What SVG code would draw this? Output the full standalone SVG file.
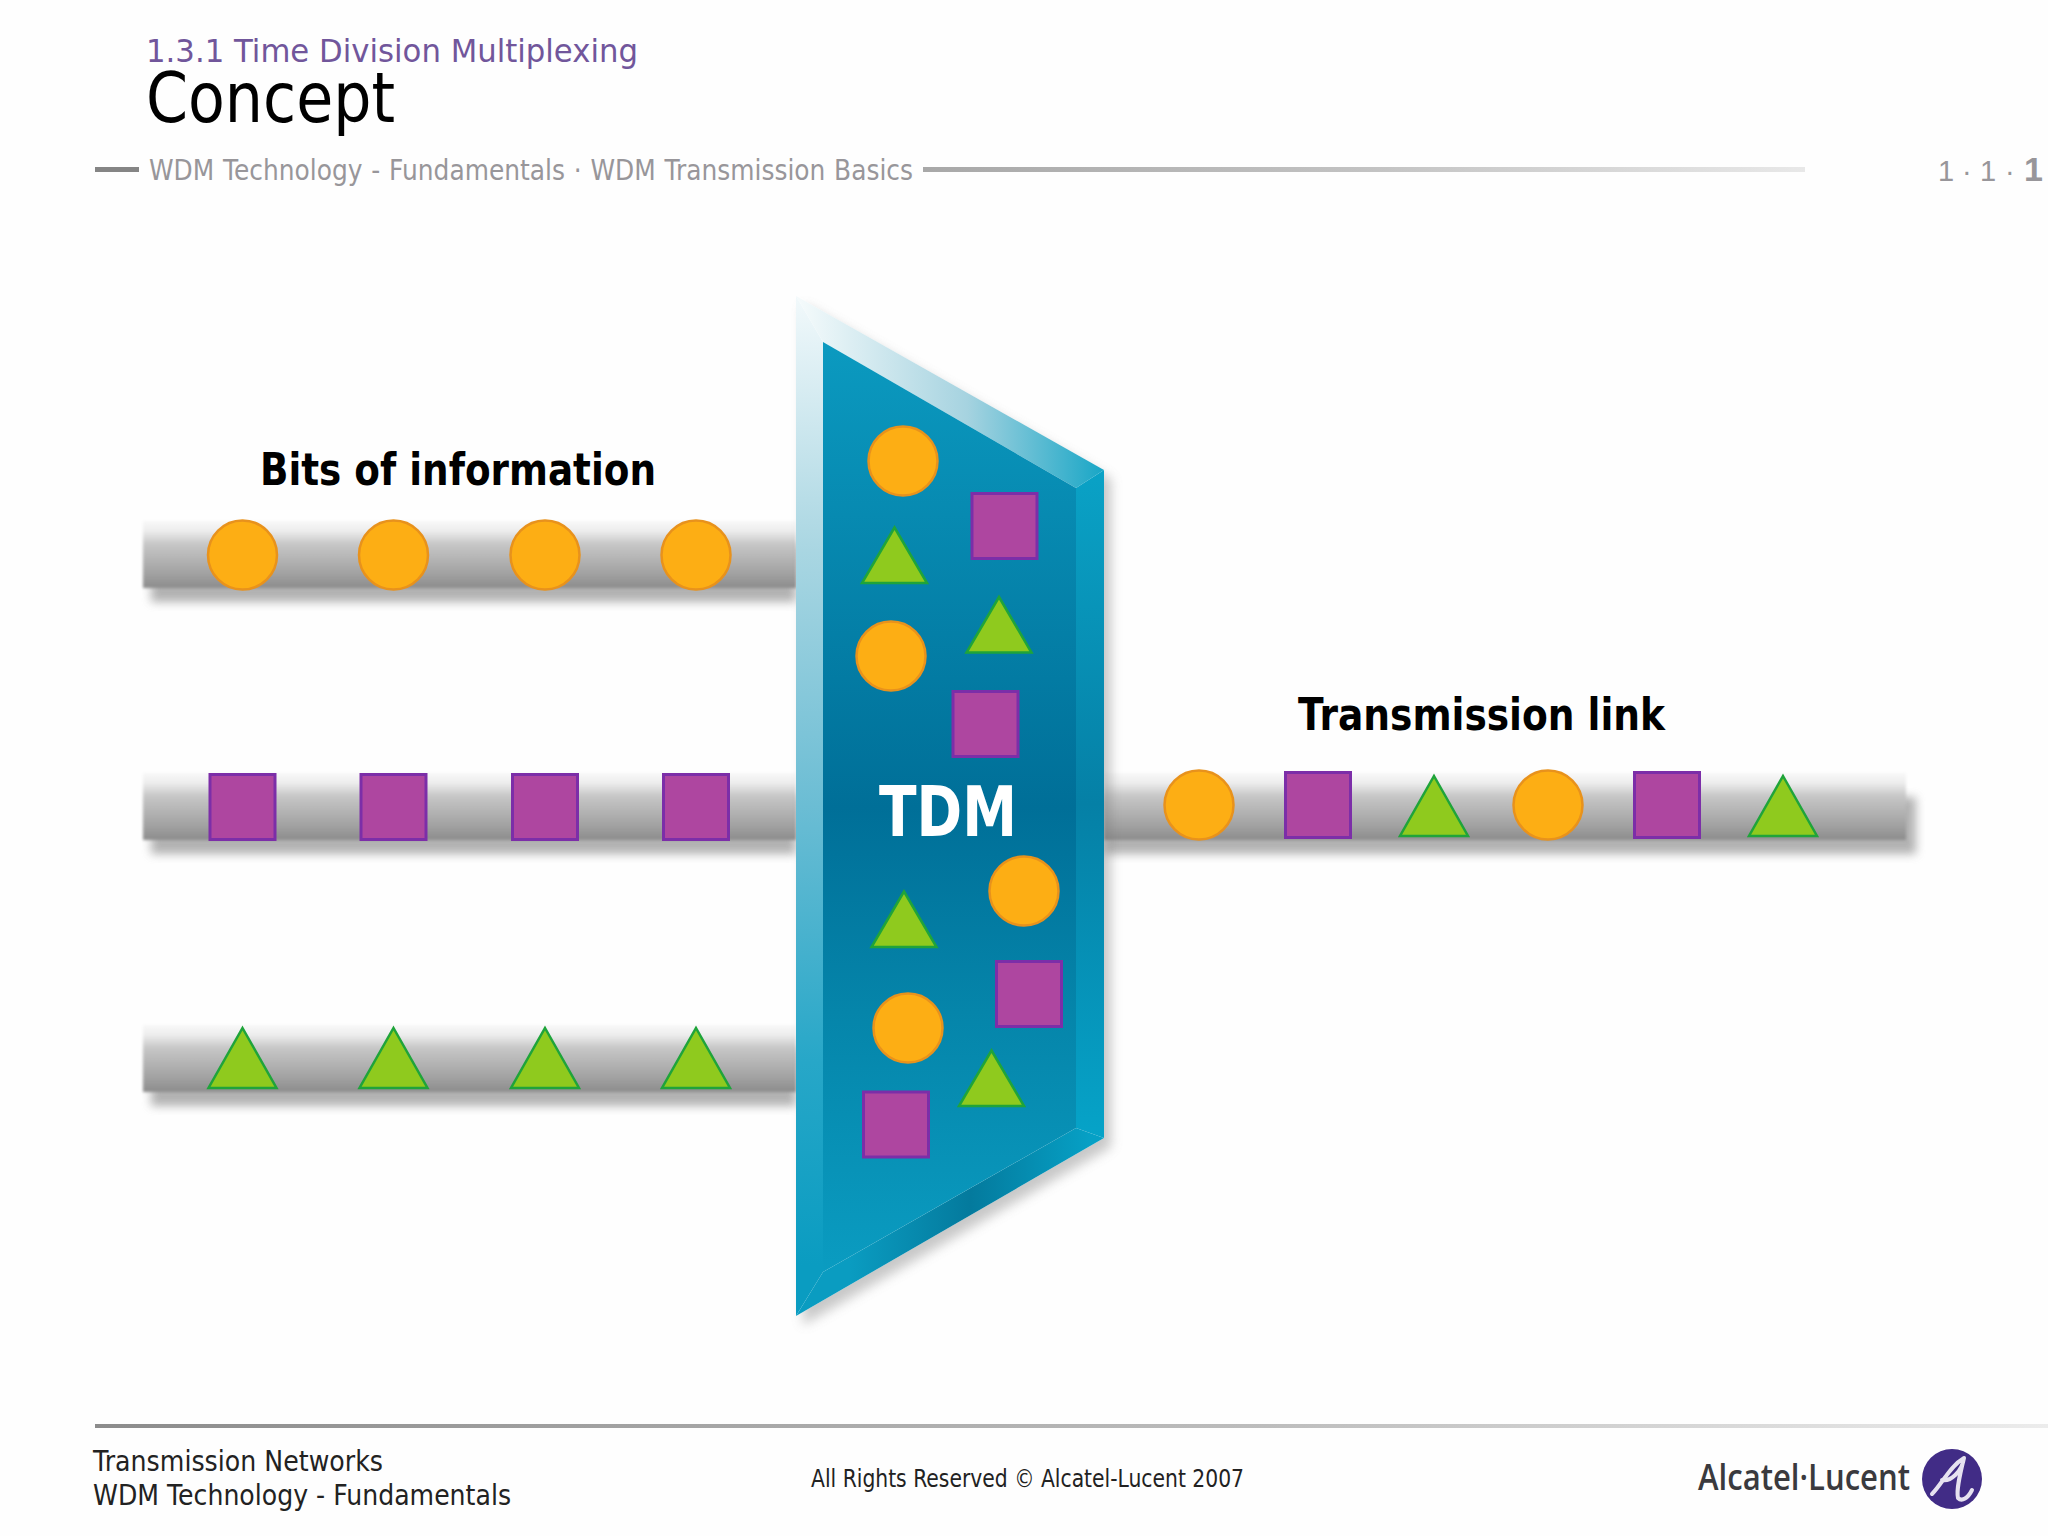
<svg xmlns="http://www.w3.org/2000/svg" xmlns:xlink="http://www.w3.org/1999/xlink" width="2048" height="1536" viewBox="0 0 2048 1536">
<style>
text{font-family:"DejaVu Sans","Liberation Sans",sans-serif}
.c{fill:#fdae14;stroke:#e8921c;stroke-width:2.500}
.s{fill:#ae46a0;stroke:#7c2ea8;stroke-width:3}
.t{fill:#8fca1e;stroke:#1fa43a;stroke-width:2.500;stroke-linejoin:miter}
.lbl{font-weight:bold;font-size:44px;fill:#000}
.gr{fill:#98969a}
.pg{font-family:"Liberation Sans",Arial,sans-serif;fill:#98969a}
.ft{font-size:29px;fill:#222}
</style>
<defs>
<filter id="blur" x="-5%" y="-40%" width="110%" height="180%"><feGaussianBlur stdDeviation="5"/></filter>
<filter id="blur2" x="-10%" y="-10%" width="120%" height="120%"><feGaussianBlur stdDeviation="6"/></filter>
<filter id="soft" x="-2%" y="-20%" width="104%" height="140%"><feGaussianBlur stdDeviation="1.6"/></filter>
<linearGradient id="bar1" gradientUnits="objectBoundingBox" x1="0" y1="0" x2="0" y2="1"><stop offset="0" stop-color="#f8f8f8"/><stop offset=".14" stop-color="#eeeeee"/><stop offset=".35" stop-color="#c6c6c6"/><stop offset=".8" stop-color="#a0a0a0"/><stop offset="1" stop-color="#8b8b8b"/></linearGradient>
<linearGradient id="fadeL" x1="0" x2="1" y1="0" y2="0"><stop offset="0" stop-color="#a8a8a8"/><stop offset=".5" stop-color="#c2c2c2"/><stop offset="1" stop-color="#e8e8e8"/></linearGradient>
<linearGradient id="fadeF" x1="0" x2="1" y1="0" y2="0"><stop offset="0" stop-color="#8c8c8c"/><stop offset=".6" stop-color="#bdbdbd"/><stop offset="1" stop-color="#ececec"/></linearGradient>
<linearGradient id="inner" gradientUnits="userSpaceOnUse" x1="0" y1="342" x2="0" y2="1272"><stop offset="0" stop-color="#0b9ac0"/><stop offset=".5" stop-color="#006f98"/><stop offset=".72" stop-color="#0585aa"/><stop offset="1" stop-color="#0a9cc1"/></linearGradient>
<linearGradient id="left" gradientUnits="userSpaceOnUse" x1="0" y1="296" x2="0" y2="1316"><stop offset="0" stop-color="#f2f9fb"/><stop offset=".25" stop-color="#a9d6e2"/><stop offset=".5" stop-color="#6bbdd4"/><stop offset=".75" stop-color="#27a7c8"/><stop offset=".95" stop-color="#0a9cc1"/></linearGradient>
<linearGradient id="top" gradientUnits="userSpaceOnUse" x1="800" y1="0" x2="1104" y2="0"><stop offset="0" stop-color="#f4fafb"/><stop offset=".55" stop-color="#a6d3e0"/><stop offset="1" stop-color="#18a6c6"/></linearGradient>
<linearGradient id="right" gradientUnits="userSpaceOnUse" x1="0" y1="470" x2="0" y2="1138"><stop offset="0" stop-color="#0aa2c6"/><stop offset=".5" stop-color="#0580a6"/><stop offset="1" stop-color="#06a3c8"/></linearGradient>
<linearGradient id="bottom" gradientUnits="userSpaceOnUse" x1="850" y1="0" x2="1090" y2="0"><stop offset="0" stop-color="#0a9cc1"/><stop offset=".5" stop-color="#047a9d"/><stop offset="1" stop-color="#06a0c5"/></linearGradient>
<g id="bar-l"><rect x="151" y="-25" width="645" height="57" fill="#808080" opacity=".6" filter="url(#blur)" transform="translate(0,16)"/><rect x="143" y="-33" width="653" height="67" fill="url(#bar1)" filter="url(#soft)"/></g>
<g id="bar-r"><rect x="1104" y="-25" width="812" height="57" fill="#808080" opacity=".6" filter="url(#blur)" transform="translate(0,16)"/><rect x="1104" y="-33" width="802" height="67" fill="url(#bar1)" filter="url(#soft)"/></g>
<circle id="ci" class="c" r="34.5"/>
<rect id="sq" class="s" x="-32.5" y="-32.5" width="65" height="65"/>
<polygon id="tr" class="t" points="0,-30 34,30 -34,30"/>
<polygon id="trs" class="t" points="0,-28.500 32.500,27 -32.500,27"/>
</defs>
<rect width="2048" height="1536" fill="#fefefe"/>

<g id="header">
<text x="146" y="62" font-size="32" fill="#71569b" textLength="492" lengthAdjust="spacingAndGlyphs">1.3.1 Time Division Multiplexing</text>
<text x="146" y="122" font-size="70" fill="#000" textLength="249" lengthAdjust="spacingAndGlyphs">Concept</text>
<rect x="95" y="167" width="44" height="5" fill="#858585"/>
<text x="149" y="180" font-size="29" class="gr" textLength="764" lengthAdjust="spacingAndGlyphs" word-spacing="1">WDM Technology - Fundamentals · WDM Transmission Basics</text>
<rect x="923" y="167" width="882" height="5" fill="url(#fadeL)"/>
<text x="1938" y="181" font-size="29" class="pg"><tspan>1</tspan><tspan x="1962">·</tspan><tspan x="1980">1</tspan><tspan x="2005">·</tspan></text>
<text x="2024" y="181" font-size="34" font-weight="bold" class="pg">1</text>
</g>

<g id="connectors">
<use id="bar-1" xlink:href="#bar-l" y="554"/>
<use id="bar-2" xlink:href="#bar-l" y="806"/>
<use id="bar-3" xlink:href="#bar-l" y="1058"/>
<use id="bar-out" xlink:href="#bar-r" y="806"/>
</g>

<g id="tdm">
<polygon points="796,296 1104,470 1104,1138 796,1316" fill="#777" opacity=".4" filter="url(#blur2)" transform="translate(7,9)"/>
<polygon points="796,296 1104,470 1104,1138 796,1316" fill="#fefefe"/>
<polygon points="796,296 823,342 823,1272 796,1316" fill="url(#left)"/>
<polygon points="796,296 1104,470 1076,488 823,342" fill="url(#top)"/>
<polygon points="1104,470 1104,1138 1076,1128 1076,488" fill="url(#right)"/>
<polygon points="796,1316 1104,1138 1076,1128 823,1272" fill="url(#bottom)"/>
<polygon points="823,342 1076,488 1076,1128 823,1272" fill="url(#inner)"/>
<text x="879" y="836" font-size="70" font-weight="bold" fill="#fff" textLength="138" lengthAdjust="spacingAndGlyphs">TDM</text>
</g>

<g id="plate-bits">
<use xlink:href="#ci" x="903" y="461"/>
<use xlink:href="#ci" x="891" y="656"/>
<use xlink:href="#ci" x="1024" y="891"/>
<use xlink:href="#ci" x="908" y="1028"/>
<use xlink:href="#sq" x="1004.500" y="526"/>
<use xlink:href="#sq" x="985.500" y="724"/>
<use xlink:href="#sq" x="1029" y="994"/>
<use xlink:href="#sq" x="896" y="1124.500"/>
<use xlink:href="#trs" x="894.500" y="556"/>
<use xlink:href="#trs" x="999" y="625.500"/>
<use xlink:href="#trs" x="904" y="920"/>
<use xlink:href="#trs" x="991.500" y="1079"/>
</g>

<g id="bits-row-1">
<use xlink:href="#ci" x="242.500" y="555"/><use xlink:href="#ci" x="393.500" y="555"/><use xlink:href="#ci" x="545" y="555"/><use xlink:href="#ci" x="696" y="555"/>
</g>
<g id="bits-row-2">
<use xlink:href="#sq" x="242.500" y="807"/><use xlink:href="#sq" x="393.500" y="807"/><use xlink:href="#sq" x="545" y="807"/><use xlink:href="#sq" x="696" y="807"/>
</g>
<g id="bits-row-3">
<use xlink:href="#tr" x="242.500" y="1058"/><use xlink:href="#tr" x="393.500" y="1058"/><use xlink:href="#tr" x="545" y="1058"/><use xlink:href="#tr" x="696" y="1058"/>
</g>
<g id="bits-out">
<use xlink:href="#ci" x="1199" y="805"/><use xlink:href="#sq" x="1318" y="805"/><use xlink:href="#tr" x="1434" y="806"/>
<use xlink:href="#ci" x="1548" y="805"/><use xlink:href="#sq" x="1667" y="805"/><use xlink:href="#tr" x="1783" y="806"/>
</g>

<g id="label-bits"><text class="lbl" x="260" y="485" textLength="396" lengthAdjust="spacingAndGlyphs">Bits of information</text></g>
<g id="label-link"><text class="lbl" x="1298" y="730" textLength="367" lengthAdjust="spacingAndGlyphs">Transmission link</text></g>

<g id="footer">
<rect x="95" y="1424" width="1953" height="4" fill="url(#fadeF)"/>
<text class="ft" x="93" y="1471" textLength="290" lengthAdjust="spacingAndGlyphs">Transmission Networks</text>
<text class="ft" x="93" y="1505" textLength="418" lengthAdjust="spacingAndGlyphs">WDM Technology - Fundamentals</text>
<text x="811" y="1487" font-size="24" fill="#222" textLength="433" lengthAdjust="spacingAndGlyphs">All Rights Reserved © Alcatel-Lucent 2007</text>
</g>

<g id="logo">
<text x="1698" y="1490" font-size="36" font-weight="600" fill="#3a3a3e" style="font-family:'Open Sans','Liberation Sans',sans-serif" textLength="212" lengthAdjust="spacingAndGlyphs">Alcatel·Lucent</text>
<circle cx="1952" cy="1479" r="30" fill="#412c86"/>
<path d="M1932 1494 C1942 1484 1950 1466 1964 1458 C1962 1472 1950 1482 1942 1480 M1964 1458 C1960 1474 1956 1490 1958 1498 C1962 1502 1968 1498 1972 1490" fill="none" stroke="#e6e2f0" stroke-width="4" stroke-linecap="round" stroke-linejoin="round"/>
</g>
</svg>
